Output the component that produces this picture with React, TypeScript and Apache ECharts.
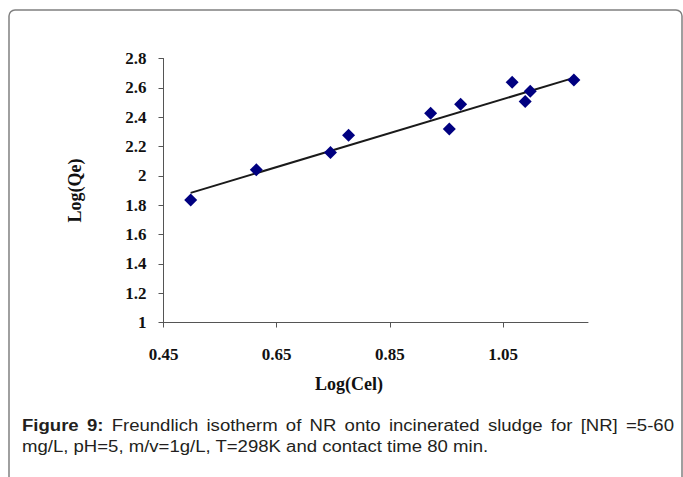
import React, { useEffect, useRef } from "react";
import * as echarts from "echarts";

const logCel = [0.498, 0.614, 0.745, 0.777, 0.922, 0.955, 0.975, 1.066, 1.089, 1.098, 1.175];
const logQe = [1.836, 2.041, 2.159, 2.277, 2.427, 2.32, 2.488, 2.638, 2.506, 2.577, 2.654];
const trendCel = [0.498, 1.175];
const trendQe = [1.884, 2.668];
const xTicks = [0.45, 0.65, 0.85, 1.05];
const yTicks = [1, 1.2, 1.4, 1.6, 1.8, 2, 2.2, 2.4, 2.6, 2.8];
const xTitle = "Log(Cel)";
const yTitle = "Log(Qe)";
const captionBold = ["Figure", "9:"];
const captionLine1 = "Freundlich isotherm of NR onto incinerated sludge for [NR] =5-60";
const captionLine2 = "mg/L, pH=5, m/v=1g/L, T=298K and contact time 80 min.";

const SERIF = "'Liberation Serif', 'Times New Roman', serif";
const SANS = "'Liberation Sans', Arial, sans-serif";

function measure(text: string, font: string): number {
  const c = document.createElement("canvas");
  const ctx = c.getContext("2d");
  if (!ctx) return text.length * 8;
  ctx.font = font;
  return ctx.measureText(text).width;
}

export default function App() {
  const ref = useRef<HTMLDivElement>(null);
  useEffect(() => {
    if (!ref.current) return;
    const chart = echarts.init(ref.current, undefined, { renderer: "svg" });

    const capSize = 16;
    const stretch = 1.16;
    const boldFont = `bold ${capSize}px 'Liberation Sans'`;
    const normFont = `${capSize}px 'Liberation Sans'`;
    const words: { t: string; bold: boolean }[] = [
      ...captionBold.map((t) => ({ t, bold: true })),
      ...captionLine1.split(" ").map((t) => ({ t, bold: false })),
    ];
    const widths = words.map((w) => measure(w.t, w.bold ? boldFont : normFont) * stretch);
    const left = 22;
    const right = 674;
    const total = widths.reduce((a, b) => a + b, 0);
    const gap = (right - left - total) / (words.length - 1);
    let cx = left;
    const line1Els: any[] = words.map((w, i) => {
      const el = {
        type: "text",
        x: cx,
        y: 425,
        scaleX: stretch,
        style: {
          text: w.t,
          font: w.bold ? `bold ${capSize}px ${SANS}` : `${capSize}px ${SANS}`,
          fill: "#231f20",
          textAlign: "left",
          textVerticalAlign: "middle",
        },
      };
      cx += widths[i] + gap;
      return el;
    });

    chart.setOption({
      animation: false,
      backgroundColor: "#ffffff",
      grid: { left: 163.5, top: 58.5, right: 95, bottom: 154.5, containLabel: false },
      xAxis: {
        type: "value",
        min: 0.45,
        max: 1.2,
        interval: 0.2,
        axisLine: { show: true, onZero: false, lineStyle: { color: "#555", width: 1 } },
        axisTick: { show: true, inside: false, length: 5, lineStyle: { color: "#555" }, customValues: xTicks },
        axisLabel: {
          customValues: xTicks,
          margin: 23,
          fontFamily: SERIF,
          fontWeight: "bold",
          fontSize: 17,
          color: "#111",
        },
        splitLine: { show: false },
      },
      yAxis: {
        type: "value",
        min: 1,
        max: 2.8,
        interval: 0.2,
        name: yTitle,
        nameLocation: "middle",
        nameGap: 80,
        nameRotate: 90,
        nameTextStyle: { fontFamily: SERIF, fontWeight: "bold", fontSize: 18, color: "#111" },
        axisLine: { show: true, onZero: false, lineStyle: { color: "#555", width: 1 } },
        axisTick: { show: true, inside: false, length: 5, lineStyle: { color: "#555" }, customValues: yTicks },
        axisLabel: {
          customValues: yTicks,
          margin: 17,
          fontFamily: SERIF,
          fontWeight: "bold",
          fontSize: 17,
          color: "#111",
        },
        splitLine: { show: false },
      },
      series: [
        {
          type: "line",
          data: trendCel.map((x, i) => [x, trendQe[i]]),
          showSymbol: false,
          symbol: "none",
          lineStyle: { color: "#1a1a1a", width: 2 },
          z: 2,
          silent: true,
        },
        {
          type: "scatter",
          data: logCel.map((x, i) => [x, logQe[i]]),
          symbol: "diamond",
          symbolSize: 13,
          itemStyle: { color: "#000080", opacity: 1 },
          z: 3,
        },
      ],
      graphic: [
        {
          type: "rect",
          shape: { x: 9, y: 10, width: 673, height: 475, r: 6 },
          style: { fill: "none", stroke: "#808080", lineWidth: 1.5 },
          z: 0,
        },
        {
          type: "text",
          x: 349,
          y: 384,
          style: {
            text: xTitle,
            font: `bold 18px ${SERIF}`,
            fill: "#111",
            textAlign: "center",
            textVerticalAlign: "middle",
          },
        },
        ...line1Els,
        {
          type: "text",
          x: left,
          y: 446,
          scaleX: stretch,
          style: {
            text: captionLine2,
            font: `${capSize}px ${SANS}`,
            fill: "#231f20",
            textAlign: "left",
            textVerticalAlign: "middle",
          },
        },
      ],
    });
    return () => chart.dispose();
  }, []);
  return (
    <div
      ref={ref}
      style={{ position: "absolute", left: 0, top: 0, width: 683, height: 477 }}
    />
  );
}
